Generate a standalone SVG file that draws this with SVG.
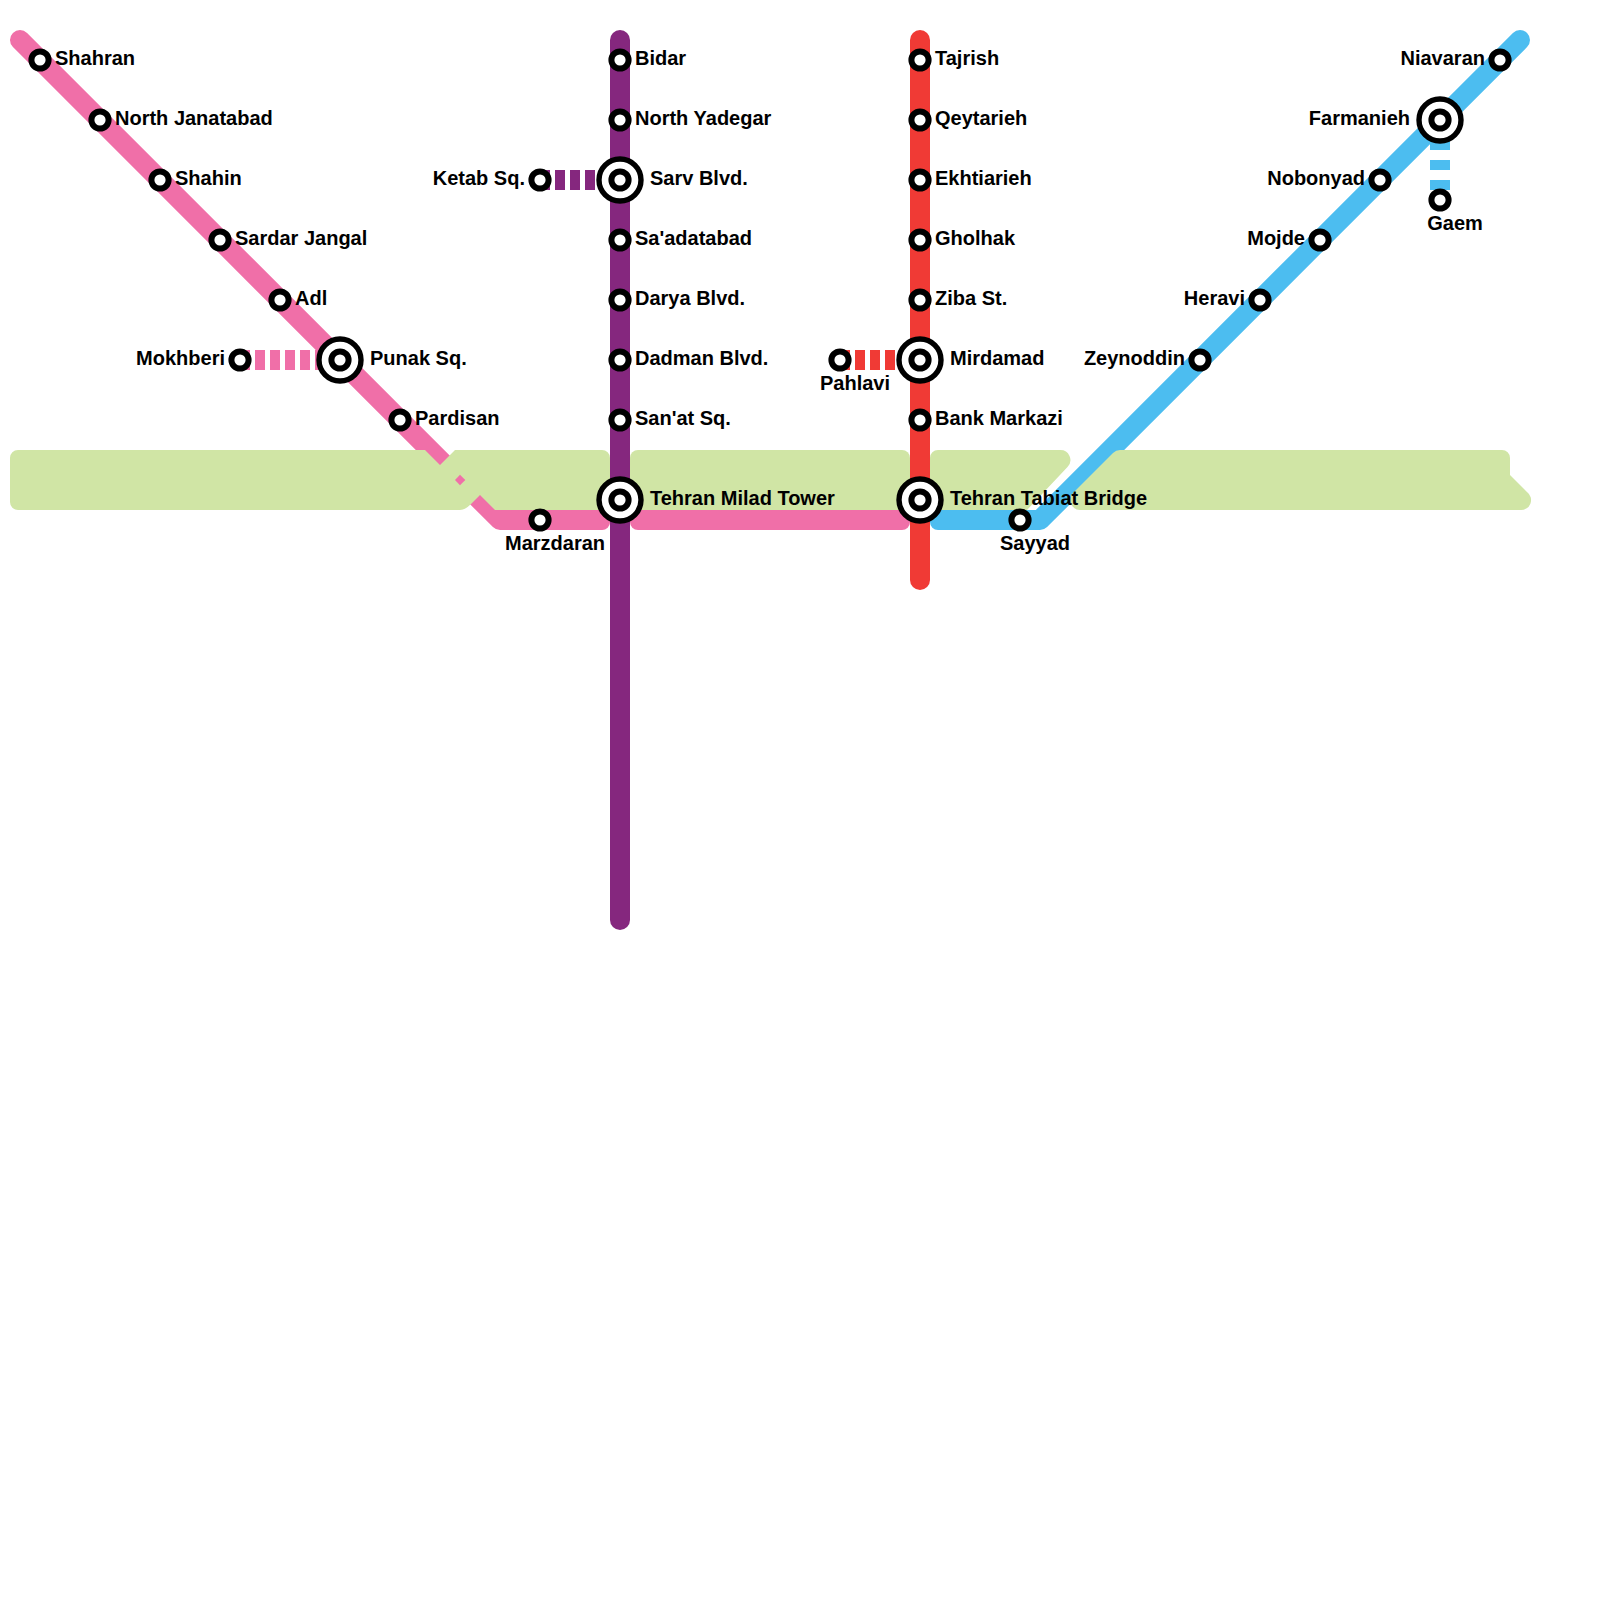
<svg xmlns="http://www.w3.org/2000/svg" width="1600" height="1600" viewBox="0 0 1600 1600">
<style>
.ln{fill:none;stroke-width:20;stroke-linecap:round;stroke-linejoin:round}
.d{fill:none;stroke-width:20}
.pink{stroke:#f06fa8}.purple{stroke:#85277e}.red{stroke:#f03a35}.blue{stroke:#4cbdf0}
.green{fill:#d0e5a5}
.o{fill:#fff;stroke:#000;stroke-width:6}
.w{fill:#fff;stroke:#000;stroke-width:5.4}
text{font-family:"Liberation Sans",Arial,sans-serif;font-weight:700;font-size:20px;fill:#000}
.e{text-anchor:end}.m{text-anchor:middle}
</style>
<defs>
<g id="st"><circle r="8.6" class="o"/></g>
<g id="ix"><circle r="21" class="w"/><circle r="8.6" class="o"/></g>
</defs>
<g id="connectors">
<path class="ln pink" d="M20 40L500 520H600"/>
<path d="M500 510H602a8 8 0 0 1 8 8v4a8 8 0 0 1-8 8H500z" fill="#f06fa8"/>
<path d="M630 510H910v12a8 8 0 0 1-8 8H638a8 8 0 0 1-8-8z" fill="#f06fa8"/>
<path class="ln blue" d="M1520 40L1040 520H950"/>
<path d="M930 510H1040v20H938a8 8 0 0 1-8-8z" fill="#4cbdf0"/>
</g>
<g id="river">
<path class="green" d="M18 450H425L440 465L455 450H602a8 8 0 0 1 8 8V510H495L480 495L471 504Q465 510 460 510H18a8 8 0 0 1-8-8V458a8 8 0 0 1 8-8z"/>
<path d="M455 480L460 474.7L465.3 480L460 485.3z" fill="#f06fa8"/>
<path class="green" d="M638 450H902a8 8 0 0 1 8 8V510H630V458a8 8 0 0 1 8-8z"/>
<path class="green" d="M938 450H1060a10 10 0 0 1 7.5 17L1027 510H930V458a8 8 0 0 1 8-8z"/>
<path class="green" d="M1120 450H1502a8 8 0 0 1 8 8V475L1527 492a10 10 0 0 1-7 18H1080a10 10 0 0 1-7-17L1113 453Q1116 450 1120 450z"/>
</g>
<g id="connectors-2">
<path class="ln purple" d="M620 40V920"/>
<path class="ln red" d="M920 40V580"/>
<path class="d pink" d="M240 360H340" stroke-dasharray="10 5"/>
<path class="d purple" d="M540 180H620" stroke-dasharray="10 5"/>
<path class="d red" d="M840 360H920" stroke-dasharray="10 5"/>
<path class="d blue" d="M1440 120V200" stroke-dasharray="10 10"/>
</g>
<g id="n-shahran"><use href="#st" x="40" y="60"/><text x="55" y="64.5">Shahran</text></g>
<g id="n-north-janatabad"><use href="#st" x="100" y="120"/><text x="115" y="124.5">North Janatabad</text></g>
<g id="n-shahin"><use href="#st" x="160" y="180"/><text x="175" y="184.5">Shahin</text></g>
<g id="n-sardar"><use href="#st" x="220" y="240"/><text x="235" y="244.5">Sardar Jangal</text></g>
<g id="n-adl"><use href="#st" x="280" y="300"/><text x="295" y="304.5">Adl</text></g>
<g id="n-punak"><use href="#ix" x="340" y="360"/><text x="370" y="364.5">Punak Sq.</text></g>
<g id="n-mokhberi"><use href="#st" x="240" y="360"/><text class="e" x="225" y="364.5">Mokhberi</text></g>
<g id="n-pardisan"><use href="#st" x="400" y="420"/><text x="415" y="424.5">Pardisan</text></g>
<g id="n-marzdaran"><use href="#st" x="540" y="520"/><text class="m" x="555" y="550">Marzdaran</text></g>
<g id="n-bidar"><use href="#st" x="620" y="60"/><text x="635" y="64.5">Bidar</text></g>
<g id="n-north-yadegar"><use href="#st" x="620" y="120"/><text x="635" y="124.5">North Yadegar</text></g>
<g id="n-sarv"><use href="#ix" x="620" y="180"/><text x="650" y="184.5">Sarv Blvd.</text></g>
<g id="n-ketab"><use href="#st" x="540" y="180"/><text class="e" x="525" y="184.5">Ketab Sq.</text></g>
<g id="n-saadatabad"><use href="#st" x="620" y="240"/><text x="635" y="244.5">Sa'adatabad</text></g>
<g id="n-darya"><use href="#st" x="620" y="300"/><text x="635" y="304.5">Darya Blvd.</text></g>
<g id="n-dadman"><use href="#st" x="620" y="360"/><text x="635" y="364.5">Dadman Blvd.</text></g>
<g id="n-sanat"><use href="#st" x="620" y="420"/><text x="635" y="424.5">San'at Sq.</text></g>
<g id="n-milad"><use href="#ix" x="620" y="500"/><text x="650" y="504.5">Tehran Milad Tower</text></g>
<g id="n-tajrish"><use href="#st" x="920" y="60"/><text x="935" y="64.5">Tajrish</text></g>
<g id="n-qeytarieh"><use href="#st" x="920" y="120"/><text x="935" y="124.5">Qeytarieh</text></g>
<g id="n-ekhtiarieh"><use href="#st" x="920" y="180"/><text x="935" y="184.5">Ekhtiarieh</text></g>
<g id="n-gholhak"><use href="#st" x="920" y="240"/><text x="935" y="244.5">Gholhak</text></g>
<g id="n-ziba"><use href="#st" x="920" y="300"/><text x="935" y="304.5">Ziba St.</text></g>
<g id="n-mirdamad"><use href="#ix" x="920" y="360"/><text x="950" y="364.5">Mirdamad</text></g>
<g id="n-pahlavi"><use href="#st" x="840" y="360"/><text class="m" x="855" y="390">Pahlavi</text></g>
<g id="n-bank"><use href="#st" x="920" y="420"/><text x="935" y="424.5">Bank Markazi</text></g>
<g id="n-tabiat"><use href="#ix" x="920" y="500"/><text x="950" y="504.5">Tehran Tabiat Bridge</text></g>
<g id="n-sayyad"><use href="#st" x="1020" y="520"/><text class="m" x="1035" y="550">Sayyad</text></g>
<g id="n-zeynoddin"><use href="#st" x="1200" y="360"/><text class="e" x="1185" y="364.5">Zeynoddin</text></g>
<g id="n-heravi"><use href="#st" x="1260" y="300"/><text class="e" x="1245" y="304.5">Heravi</text></g>
<g id="n-mojde"><use href="#st" x="1320" y="240"/><text class="e" x="1305" y="244.5">Mojde</text></g>
<g id="n-nobonyad"><use href="#st" x="1380" y="180"/><text class="e" x="1365" y="184.5">Nobonyad</text></g>
<g id="n-farmanieh"><use href="#ix" x="1440" y="120"/><text class="e" x="1410" y="124.5">Farmanieh</text></g>
<g id="n-gaem"><use href="#st" x="1440" y="200"/><text class="m" x="1455" y="230">Gaem</text></g>
<g id="n-niavaran"><use href="#st" x="1500" y="60"/><text class="e" x="1485" y="64.5">Niavaran</text></g>
</svg>
